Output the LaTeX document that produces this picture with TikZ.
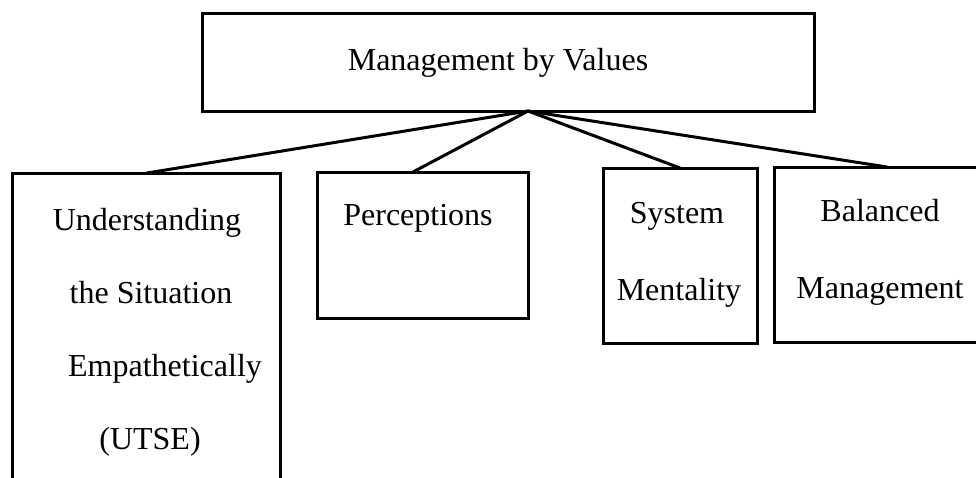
\documentclass[tikz,border=0pt]{standalone}
\usepackage{fontspec}
\setmainfont{Liberation Serif}
\begin{document}
\begin{tikzpicture}[x=1pt,y=-1pt,
  box/.style={draw=black, line width=3pt, rectangle, anchor=north west, inner sep=0pt, outer sep=0pt},
  lbl/.style={font=\fontsize{32}{38}\selectfont, inner sep=0pt, text height=22pt, text depth=7pt, anchor=center},
  conn/.style={line width=3pt, line cap=round}]
\useasboundingbox (0,0) rectangle (976,477);
\clip (0,0) rectangle (976,477);
% boxes
\node[box, minimum width=612pt, minimum height=98pt] (top) at (202,13) {};
\node[box, minimum width=268pt, minimum height=340pt] (utse) at (12,173) {};
\node[box, minimum width=211pt, minimum height=146pt] (perc) at (317,172) {};
\node[box, minimum width=154pt, minimum height=175pt] (sys) at (603,168) {};
\node[box, minimum width=236pt, minimum height=175pt] (bal) at (774,167) {};
% texts
\node[lbl] (t0) at (498,63) {Management by Values};
\node[lbl] (t1) at (147,223) {Understanding};
\node[lbl] (t2) at (151,296) {the Situation};
\node[lbl] (t3) at (165,369) {Empathetically};
\node[lbl] (t4) at (150,442) {(UTSE)};
\node[lbl] (t5) at (418,218) {Perceptions};
\node[lbl] (t6) at (677,216) {System};
\node[lbl] (t7) at (679,293) {Mentality};
\node[lbl] (t8) at (880,214) {Balanced};
\node[lbl] (t9) at (880,291) {Management};
% connectors
\coordinate (apex) at ([xshift=20pt]top.south);
\draw[conn] (apex) -- ([xshift=135pt]utse.north west);
\draw[conn] (apex) -- ([xshift=96pt]perc.north west);
\draw[conn] (apex) -- ([xshift=77pt]sys.north west);
\draw[conn] (apex) -- ([xshift=113pt]bal.north west);
\end{tikzpicture}
\end{document}
